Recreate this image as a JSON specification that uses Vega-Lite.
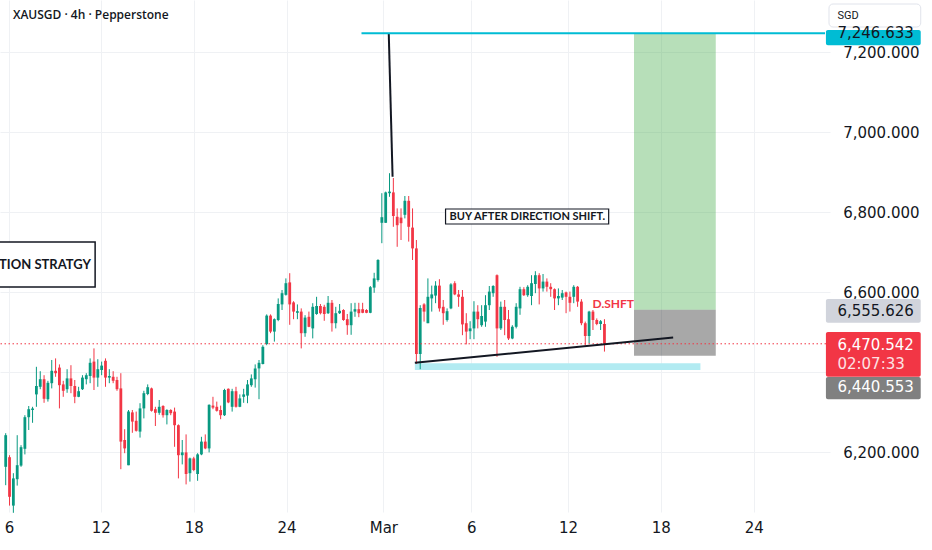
{
  "$schema": "https://vega.github.io/schema/vega-lite/v6.json",
  "width": 830,
  "height": 512,
  "autosize": {"type": "none"},
  "padding": {"left": 0, "top": 0, "right": 102, "bottom": 38},
  "background": "#ffffff",
  "config": {"view": {"stroke": null}, "font": "DejaVu Sans"},
  "datasets": {
    "candles": [
      {"i":0,"o":6163,"h":6247,"l":6117,"c":6242},
      {"i":1,"o":6187,"h":6192,"l":6066,"c":6088},
      {"i":2,"o":6066,"h":6147,"l":6048,"c":6134},
      {"i":3,"o":6132,"h":6242,"l":6116,"c":6167},
      {"i":4,"o":6166,"h":6217,"l":6163,"c":6212},
      {"i":5,"o":6208,"h":6292,"l":6194,"c":6287},
      {"i":6,"o":6287,"h":6315,"l":6255,"c":6307},
      {"i":7,"o":6305,"h":6313,"l":6273,"c":6309},
      {"i":8,"o":6344,"h":6413,"l":6313,"c":6365},
      {"i":9,"o":6363,"h":6402,"l":6357,"c":6382},
      {"i":10,"o":6382,"h":6392,"l":6323,"c":6333},
      {"i":11,"o":6332,"h":6378,"l":6326,"c":6373},
      {"i":12,"o":6372,"h":6430,"l":6359,"c":6403},
      {"i":13,"o":6403,"h":6434,"l":6388,"c":6397},
      {"i":14,"o":6411,"h":6419,"l":6309,"c":6367},
      {"i":15,"o":6369,"h":6378,"l":6338,"c":6353},
      {"i":16,"o":6357,"h":6407,"l":6348,"c":6384},
      {"i":17,"o":6384,"h":6417,"l":6347,"c":6365},
      {"i":18,"o":6365,"h":6380,"l":6322,"c":6338},
      {"i":19,"o":6338,"h":6363,"l":6337,"c":6352},
      {"i":20,"o":6357,"h":6392,"l":6355,"c":6386},
      {"i":21,"o":6382,"h":6397,"l":6369,"c":6392},
      {"i":22,"o":6390,"h":6434,"l":6372,"c":6423},
      {"i":23,"o":6426,"h":6459,"l":6355,"c":6386},
      {"i":24,"o":6386,"h":6432,"l":6363,"c":6407},
      {"i":25,"o":6405,"h":6426,"l":6392,"c":6416},
      {"i":26,"o":6428,"h":6434,"l":6363,"c":6386},
      {"i":27,"o":6386,"h":6407,"l":6372,"c":6390},
      {"i":28,"o":6388,"h":6402,"l":6372,"c":6378},
      {"i":29,"o":6380,"h":6388,"l":6353,"c":6357},
      {"i":30,"o":6359,"h":6397,"l":6157,"c":6226},
      {"i":31,"o":6230,"h":6257,"l":6197,"c":6209},
      {"i":32,"o":6167,"h":6305,"l":6167,"c":6301},
      {"i":33,"o":6299,"h":6305,"l":6248,"c":6276},
      {"i":34,"o":6278,"h":6301,"l":6251,"c":6253},
      {"i":35,"o":6251,"h":6322,"l":6236,"c":6309},
      {"i":36,"o":6309,"h":6353,"l":6284,"c":6347},
      {"i":37,"o":6345,"h":6369,"l":6342,"c":6362},
      {"i":38,"o":6359,"h":6361,"l":6301,"c":6303},
      {"i":39,"o":6307,"h":6313,"l":6265,"c":6298},
      {"i":40,"o":6298,"h":6330,"l":6293,"c":6313},
      {"i":41,"o":6315,"h":6317,"l":6286,"c":6292},
      {"i":42,"o":6292,"h":6307,"l":6269,"c":6305},
      {"i":43,"o":6305,"h":6307,"l":6292,"c":6297},
      {"i":44,"o":6301,"h":6311,"l":6213,"c":6267},
      {"i":45,"o":6267,"h":6269,"l":6134,"c":6192},
      {"i":46,"o":6192,"h":6230,"l":6169,"c":6199},
      {"i":47,"o":6199,"h":6244,"l":6119,"c":6145},
      {"i":48,"o":6147,"h":6186,"l":6126,"c":6184},
      {"i":49,"o":6184,"h":6188,"l":6152,"c":6155},
      {"i":50,"o":6145,"h":6197,"l":6128,"c":6194},
      {"i":51,"o":6194,"h":6238,"l":6192,"c":6226},
      {"i":52,"o":6226,"h":6244,"l":6207,"c":6209},
      {"i":53,"o":6209,"h":6319,"l":6199,"c":6318},
      {"i":54,"o":6316,"h":6338,"l":6307,"c":6311},
      {"i":55,"o":6313,"h":6326,"l":6301,"c":6303},
      {"i":56,"o":6305,"h":6316,"l":6282,"c":6292},
      {"i":57,"o":6292,"h":6358,"l":6290,"c":6355},
      {"i":58,"o":6358,"h":6359,"l":6322,"c":6324},
      {"i":59,"o":6313,"h":6358,"l":6301,"c":6352},
      {"i":60,"o":6352,"h":6363,"l":6311,"c":6313},
      {"i":61,"o":6313,"h":6344,"l":6312,"c":6334},
      {"i":62,"o":6338,"h":6358,"l":6323,"c":6344},
      {"i":63,"o":6341,"h":6380,"l":6322,"c":6369},
      {"i":64,"o":6367,"h":6394,"l":6363,"c":6384},
      {"i":65,"o":6382,"h":6419,"l":6361,"c":6409},
      {"i":66,"o":6409,"h":6430,"l":6332,"c":6423},
      {"i":67,"o":6420,"h":6467,"l":6419,"c":6463},
      {"i":68,"o":6470,"h":6544,"l":6467,"c":6541},
      {"i":69,"o":6541,"h":6544,"l":6497,"c":6501},
      {"i":70,"o":6501,"h":6534,"l":6476,"c":6532},
      {"i":71,"o":6530,"h":6584,"l":6527,"c":6570},
      {"i":72,"o":6569,"h":6605,"l":6555,"c":6597},
      {"i":73,"o":6593,"h":6634,"l":6591,"c":6622},
      {"i":74,"o":6624,"h":6647,"l":6518,"c":6569},
      {"i":75,"o":6574,"h":6577,"l":6532,"c":6551},
      {"i":76,"o":6548,"h":6569,"l":6532,"c":6552},
      {"i":77,"o":6551,"h":6559,"l":6459,"c":6497},
      {"i":78,"o":6497,"h":6542,"l":6488,"c":6536},
      {"i":79,"o":6538,"h":6551,"l":6512,"c":6513},
      {"i":80,"o":6509,"h":6572,"l":6484,"c":6563},
      {"i":81,"o":6545,"h":6588,"l":6543,"c":6565},
      {"i":82,"o":6565,"h":6570,"l":6544,"c":6547},
      {"i":83,"o":6563,"h":6568,"l":6528,"c":6545},
      {"i":84,"o":6547,"h":6590,"l":6545,"c":6573},
      {"i":85,"o":6573,"h":6580,"l":6501,"c":6522},
      {"i":86,"o":6522,"h":6563,"l":6509,"c":6547},
      {"i":87,"o":6547,"h":6570,"l":6545,"c":6553},
      {"i":88,"o":6555,"h":6557,"l":6528,"c":6530},
      {"i":89,"o":6532,"h":6545,"l":6493,"c":6517},
      {"i":90,"o":6517,"h":6572,"l":6493,"c":6551},
      {"i":91,"o":6551,"h":6573,"l":6538,"c":6557},
      {"i":92,"o":6557,"h":6573,"l":6537,"c":6547},
      {"i":93,"o":6557,"h":6573,"l":6547,"c":6548},
      {"i":94,"o":6555,"h":6557,"l":6547,"c":6548},
      {"i":95,"o":6548,"h":6615,"l":6547,"c":6612},
      {"i":96,"o":6611,"h":6648,"l":6598,"c":6634},
      {"i":97,"o":6630,"h":6682,"l":6626,"c":6680},
      {"i":98,"o":6773,"h":6847,"l":6722,"c":6787},
      {"i":99,"o":6773,"h":6851,"l":6773,"c":6849},
      {"i":100,"o":6847,"h":6897,"l":6838,"c":6851},
      {"i":101,"o":6849,"h":6885,"l":6763,"c":6790},
      {"i":102,"o":6788,"h":6809,"l":6713,"c":6767},
      {"i":103,"o":6786,"h":6809,"l":6730,"c":6772},
      {"i":104,"o":6793,"h":6840,"l":6784,"c":6828},
      {"i":105,"o":6828,"h":6840,"l":6726,"c":6763},
      {"i":106,"o":6761,"h":6809,"l":6680,"c":6709},
      {"i":107,"o":6709,"h":6730,"l":6420,"c":6445},
      {"i":108,"o":6445,"h":6567,"l":6407,"c":6560},
      {"i":109,"o":6569,"h":6572,"l":6526,"c":6551},
      {"i":110,"o":6522,"h":6634,"l":6522,"c":6588},
      {"i":111,"o":6584,"h":6616,"l":6551,"c":6594},
      {"i":112,"o":6591,"h":6627,"l":6572,"c":6616},
      {"i":113,"o":6616,"h":6632,"l":6551,"c":6559},
      {"i":114,"o":6563,"h":6580,"l":6518,"c":6547},
      {"i":115,"o":6530,"h":6559,"l":6526,"c":6552},
      {"i":116,"o":6559,"h":6622,"l":6557,"c":6619},
      {"i":117,"o":6622,"h":6627,"l":6592,"c":6594},
      {"i":118,"o":6594,"h":6605,"l":6563,"c":6588},
      {"i":119,"o":6588,"h":6605,"l":6492,"c":6519},
      {"i":120,"o":6522,"h":6547,"l":6469,"c":6501},
      {"i":121,"o":6502,"h":6527,"l":6482,"c":6509},
      {"i":122,"o":6509,"h":6577,"l":6482,"c":6551},
      {"i":123,"o":6551,"h":6567,"l":6509,"c":6532},
      {"i":124,"o":6517,"h":6567,"l":6513,"c":6540},
      {"i":125,"o":6526,"h":6592,"l":6513,"c":6567},
      {"i":126,"o":6567,"h":6615,"l":6555,"c":6601},
      {"i":127,"o":6597,"h":6617,"l":6588,"c":6615},
      {"i":128,"o":6642,"h":6644,"l":6438,"c":6509},
      {"i":129,"o":6509,"h":6576,"l":6505,"c":6563},
      {"i":130,"o":6563,"h":6580,"l":6492,"c":6530},
      {"i":131,"o":6532,"h":6555,"l":6480,"c":6484},
      {"i":132,"o":6484,"h":6517,"l":6482,"c":6513},
      {"i":133,"o":6513,"h":6572,"l":6509,"c":6563},
      {"i":134,"o":6559,"h":6613,"l":6543,"c":6607},
      {"i":135,"o":6607,"h":6612,"l":6590,"c":6592},
      {"i":136,"o":6592,"h":6617,"l":6588,"c":6613},
      {"i":137,"o":6590,"h":6642,"l":6567,"c":6622},
      {"i":138,"o":6620,"h":6652,"l":6597,"c":6642},
      {"i":139,"o":6642,"h":6647,"l":6569,"c":6609},
      {"i":140,"o":6609,"h":6645,"l":6601,"c":6626},
      {"i":141,"o":6626,"h":6634,"l":6601,"c":6613},
      {"i":142,"o":6613,"h":6622,"l":6588,"c":6607},
      {"i":143,"o":6607,"h":6609,"l":6555,"c":6584},
      {"i":144,"o":6584,"h":6609,"l":6567,"c":6590},
      {"i":145,"o":6586,"h":6605,"l":6580,"c":6597},
      {"i":146,"o":6599,"h":6601,"l":6547,"c":6588},
      {"i":147,"o":6588,"h":6601,"l":6551,"c":6573},
      {"i":148,"o":6588,"h":6617,"l":6572,"c":6613},
      {"i":149,"o":6613,"h":6615,"l":6563,"c":6576},
      {"i":150,"o":6576,"h":6582,"l":6517,"c":6522},
      {"i":151,"o":6522,"h":6526,"l":6467,"c":6490},
      {"i":152,"o":6490,"h":6553,"l":6472,"c":6551},
      {"i":153,"o":6551,"h":6555,"l":6505,"c":6530},
      {"i":154,"o":6530,"h":6534,"l":6517,"c":6520},
      {"i":155,"o":6520,"h":6530,"l":6505,"c":6527},
      {"i":156,"o":6520,"h":6532,"l":6451,"c":6470.542}
    ]
  },
  "layer": [
    {
      "data": {"values": [{"zone": "target"}]},
      "mark": {"type": "rect", "color": "#4caf50", "opacity": 0.4},
      "encoding": {
        "x": {"datum": 163.7, "type": "quantitative"},
        "x2": {"datum": 185.0},
        "y": {"datum": 6555.626, "type": "quantitative"},
        "y2": {"datum": 7246.633}
      }
    },
    {
      "data": {"values": [{"zone": "stop"}]},
      "mark": {"type": "rect", "color": "#000000", "opacity": 0.34},
      "encoding": {
        "x": {"datum": 163.7, "type": "quantitative"},
        "x2": {"datum": 185.0},
        "y": {"datum": 6440.553, "type": "quantitative"},
        "y2": {"datum": 6555.626}
      }
    },
    {
      "data": {"values": [{"zone": "support"}]},
      "mark": {"type": "rect", "color": "#b2ebf2"},
      "encoding": {
        "x": {"datum": 106.6, "type": "quantitative"},
        "x2": {"datum": 181.0},
        "y": {"datum": 6405, "type": "quantitative"},
        "y2": {"datum": 6422}
      }
    },
    {
      "data": {"name": "candles"},
      "mark": {"type": "rule", "strokeWidth": 1},
      "encoding": {
        "x": {
          "field": "i", "type": "quantitative",
          "scale": {"domain": [-0.18, 213.46], "nice": false, "zero": false},
          "axis": {
            "title": null,
            "values": [0.85, 24.79, 48.98, 73.18, 98.4, 121.3, 146.5, 170.7, 194.9],
            "labelExpr": "datum.value < 10 ? '6' : datum.value < 30 ? '12' : datum.value < 60 ? '18' : datum.value < 80 ? '24' : datum.value < 110 ? 'Mar' : datum.value < 130 ? '6' : datum.value < 160 ? '12' : datum.value < 180 ? '18' : '24'",
            "labelFont": "DejaVu Sans", "labelFontSize": 15, "labelColor": "#131722",
            "labelPadding": 8, "ticks": false, "tickSize": 0, "domain": false,
            "grid": true, "gridColor": "#eff1f4", "labelFlush": false, "labelOverlap": false
          }
        },
        "y": {
          "field": "l", "type": "quantitative",
          "scale": {"domain": [6050, 7330], "nice": false, "zero": false},
          "axis": {
            "title": null, "orient": "right",
            "values": [6200, 6400, 6600, 6800, 7000, 7200],
            "labelExpr": "datum.value == 6400 ? '' : format(datum.value, ',.3f')",
            "labelFont": "DejaVu Sans", "labelFontSize": 15, "labelColor": "#131722",
            "labelPadding": 12.7, "labelAlign": "left", "labelBaseline": "middle",
            "ticks": false, "tickSize": 0, "domain": false,
            "grid": true, "gridColor": "#eff1f4"
          }
        },
        "y2": {"field": "h"},
        "color": {"condition": {"test": "datum.c >= datum.o", "value": "#089981"}, "value": "#f23645"}
      }
    },
    {
      "data": {"name": "candles"},
      "mark": {"type": "bar", "size": 2.8},
      "encoding": {
        "x": {"field": "i", "type": "quantitative"},
        "y": {"field": "o", "type": "quantitative"},
        "y2": {"field": "c"},
        "color": {"condition": {"test": "datum.c >= datum.o", "value": "#089981"}, "value": "#f23645"}
      }
    },
    {
      "data": {"values": [{"line": "last price"}]},
      "mark": {"type": "rule", "color": "#f23645", "strokeWidth": 1, "strokeDash": [1.5, 2.5]},
      "encoding": {"y": {"datum": 6470.542, "type": "quantitative"}}
    },
    {
      "data": {"values": [{"line": "trend"}]},
      "mark": {"type": "rule", "color": "#131722", "strokeWidth": 2},
      "encoding": {
        "x": {"datum": 106.6, "type": "quantitative"},
        "x2": {"datum": 173.9},
        "y": {"datum": 6423, "type": "quantitative"},
        "y2": {"datum": 6486}
      }
    },
    {
      "data": {"values": [{"line": "projection"}]},
      "mark": {"type": "rule", "color": "#131722", "strokeWidth": 2},
      "encoding": {
        "x": {"datum": 99.8, "type": "quantitative"},
        "x2": {"datum": 100.8},
        "y": {"datum": 7247, "type": "quantitative"},
        "y2": {"datum": 6888}
      }
    },
    {
      "data": {"values": [{"line": "target"}]},
      "mark": {"type": "rule", "color": "#00bcd4", "strokeWidth": 2},
      "encoding": {
        "x": {"datum": 92.7, "type": "quantitative"},
        "x2": {"datum": 213.46},
        "y": {"datum": 7246.633, "type": "quantitative"}
      }
    },
    {
      "data": {"values": [{"note": "buy"}]},
      "mark": {"type": "rect", "fill": "#ffffff", "stroke": "#131722", "strokeWidth": 1.2},
      "encoding": {
        "x": {"datum": 114.6, "type": "quantitative"},
        "x2": {"datum": 157.1},
        "y": {"datum": 6770, "type": "quantitative"},
        "y2": {"datum": 6807.5}
      }
    },
    {
      "data": {"values": [{"note": "buy"}]},
      "mark": {"type": "text", "text": "BUY AFTER DIRECTION SHIFT.", "font": "Lato", "fontWeight": "bold", "fontSize": 11, "color": "#131722", "align": "center", "baseline": "middle"},
      "encoding": {
        "x": {"datum": 135.9, "type": "quantitative"},
        "y": {"datum": 6788.75, "type": "quantitative"}
      }
    },
    {
      "data": {"values": [{"note": "strategy"}]},
      "mark": {"type": "rect", "fill": "#ffffff", "stroke": "#131722", "strokeWidth": 1.5},
      "encoding": {
        "x": {"datum": -5, "type": "quantitative"},
        "x2": {"datum": 23.3},
        "y": {"datum": 6612.5, "type": "quantitative"},
        "y2": {"datum": 6725}
      }
    },
    {
      "data": {"values": [{"note": "strategy"}]},
      "mark": {"type": "text", "text": "TION STRATGY", "font": "Lato", "fontWeight": "bold", "fontSize": 13, "color": "#131722", "align": "right", "baseline": "middle"},
      "encoding": {
        "x": {"datum": 22.2, "type": "quantitative"},
        "y": {"datum": 6667.5, "type": "quantitative"}
      }
    },
    {
      "data": {"values": [{"note": "shift"}]},
      "mark": {"type": "text", "text": "D.SHFT", "font": "Lato", "fontWeight": "bold", "fontSize": 12, "color": "#f23645", "align": "center", "baseline": "middle"},
      "encoding": {
        "x": {"datum": 158.3, "type": "quantitative"},
        "y": {"datum": 6570, "type": "quantitative"}
      }
    },
    {
      "data": {"values": [{"note": "title"}]},
      "mark": {"type": "text", "text": "XAUSGD · 4h · Pepperstone", "font": "Open Sans", "fontWeight": 600, "fontSize": 12, "color": "#131722", "align": "left", "baseline": "middle"},
      "encoding": {
        "x": {"datum": 1.88, "type": "quantitative"},
        "y": {"datum": 7292.5, "type": "quantitative"}
      }
    },
    {
      "data": {"values": [{"tag": "currency"}]},
      "mark": {"type": "rect", "fill": "#ffffff", "stroke": "#e0e3eb", "strokeWidth": 1, "cornerRadius": 4},
      "encoding": {
        "x": {"datum": 214.5, "type": "quantitative"},
        "x2": {"datum": 238.4},
        "y": {"datum": 7262.5, "type": "quantitative"},
        "y2": {"datum": 7320}
      }
    },
    {
      "data": {"values": [{"tag": "currency"}]},
      "mark": {"type": "text", "text": "SGD", "font": "Roboto", "fontSize": 11, "color": "#131722", "align": "left", "baseline": "middle"},
      "encoding": {
        "x": {"datum": 216.7, "type": "quantitative"},
        "y": {"datum": 7290, "type": "quantitative"}
      }
    },
    {
      "data": {"values": [{"tag": "target"}]},
      "mark": {"type": "rect", "fill": "#00bcd4", "cornerRadius": 2},
      "encoding": {
        "x": {"datum": 213.7, "type": "quantitative"},
        "x2": {"datum": 238.4},
        "y": {"datum": 7217, "type": "quantitative"},
        "y2": {"datum": 7255}
      }
    },
    {
      "data": {"values": [{"tag": "target"}]},
      "mark": {"type": "text", "text": "7,246.633", "font": "DejaVu Sans", "fontSize": 15, "color": "#131722", "align": "left", "baseline": "middle"},
      "encoding": {
        "x": {"datum": 216.7, "type": "quantitative"},
        "y": {"datum": 7246.633, "type": "quantitative"}
      }
    },
    {
      "data": {"values": [{"tag": "entry"}]},
      "mark": {"type": "rect", "fill": "#d1d4dc", "cornerRadius": 2},
      "encoding": {
        "x": {"datum": 213.7, "type": "quantitative"},
        "x2": {"datum": 238.4},
        "y": {"datum": 6523.25, "type": "quantitative"},
        "y2": {"datum": 6582.5}
      }
    },
    {
      "data": {"values": [{"tag": "entry"}]},
      "mark": {"type": "text", "text": "6,555.626", "font": "DejaVu Sans", "fontSize": 15, "color": "#131722", "align": "left", "baseline": "middle"},
      "encoding": {
        "x": {"datum": 216.7, "type": "quantitative"},
        "y": {"datum": 6552.5, "type": "quantitative"}
      }
    },
    {
      "data": {"values": [{"tag": "last"}]},
      "mark": {"type": "rect", "fill": "#f23645", "cornerRadius": 2},
      "encoding": {
        "x": {"datum": 213.7, "type": "quantitative"},
        "x2": {"datum": 238.4},
        "y": {"datum": 6388.25, "type": "quantitative"},
        "y2": {"datum": 6500}
      }
    },
    {
      "data": {"values": [{"tag": "last"}]},
      "mark": {"type": "text", "text": "6,470.542", "font": "DejaVu Sans", "fontSize": 15, "color": "#ffffff", "align": "left", "baseline": "middle"},
      "encoding": {
        "x": {"datum": 216.7, "type": "quantitative"},
        "y": {"datum": 6467.5, "type": "quantitative"}
      }
    },
    {
      "data": {"values": [{"tag": "countdown"}]},
      "mark": {"type": "text", "text": "02:07:33", "font": "DejaVu Sans", "fontSize": 15, "color": "#ffffff", "opacity": 0.85, "align": "left", "baseline": "middle"},
      "encoding": {
        "x": {"datum": 216.7, "type": "quantitative"},
        "y": {"datum": 6420, "type": "quantitative"}
      }
    },
    {
      "data": {"values": [{"tag": "stop"}]},
      "mark": {"type": "rect", "fill": "#808080", "cornerRadius": 2},
      "encoding": {
        "x": {"datum": 213.7, "type": "quantitative"},
        "x2": {"datum": 238.4},
        "y": {"datum": 6331.75, "type": "quantitative"},
        "y2": {"datum": 6387.5}
      }
    },
    {
      "data": {"values": [{"tag": "stop"}]},
      "mark": {"type": "text", "text": "6,440.553", "font": "DejaVu Sans", "fontSize": 15, "color": "#ffffff", "align": "left", "baseline": "middle"},
      "encoding": {
        "x": {"datum": 216.7, "type": "quantitative"},
        "y": {"datum": 6363.25, "type": "quantitative"}
      }
    }
  ]
}
